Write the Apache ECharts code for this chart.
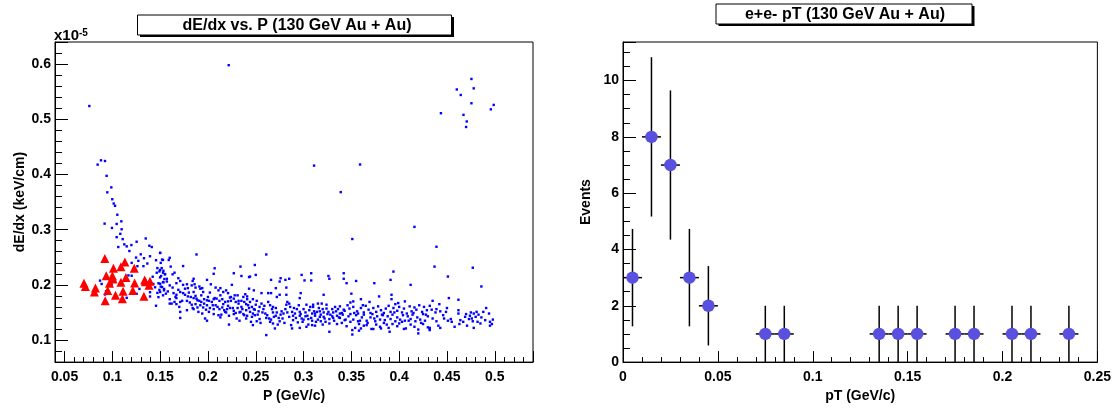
<!DOCTYPE html>
<html><head><meta charset="utf-8">
<script src="https://cdn.jsdelivr.net/npm/echarts@6/dist/echarts.min.js"></script>
<style>html,body{margin:0;padding:0;background:#fff}#c{width:1114px;height:408px}</style>
</head><body><div id="c"></div>
<script>
// ---------- Left panel: dE/dx (x1e-5 keV/cm) vs P (GeV/c) ----------
const trackOutliers = [[0.0759,0.524],[0.2217,0.598],[0.4756,0.573],[0.4603,0.554],[0.4644,0.544],[0.4780,0.556],[0.4756,0.529],[0.4673,0.508],[0.4707,0.496],[0.4700,0.486],[0.4959,0.518],[0.4989,0.526],[0.4437,0.511],[0.311,0.416],[0.3591,0.418],[0.3389,0.368]];
const trackLowP = [[0.0881,0.4256],[0.0923,0.4244],[0.0846,0.4178],[0.0940,0.3975],[0.0989,0.3766],[0.0947,0.3676],[0.0999,0.3551],[0.1014,0.3473],[0.1028,0.3432],[0.1052,0.3270],[0.1094,0.3151],[0.1045,0.3103],[0.0919,0.3109],[0.1097,0.3007],[0.0996,0.3031],[0.1083,0.2924],[0.1045,0.2864],[0.1108,0.2828],[0.1062,0.2685],[0.1125,0.2733],[0.1150,0.2697],[0.1199,0.2721],[0.1254,0.2781],[0.1349,0.2840],[0.1387,0.2709],[0.1412,0.2685],[0.1178,0.2613],[0.1297,0.2553],[0.1248,0.2494],[0.1331,0.2482],[0.1394,0.2518],[0.1499,0.2577],[0.1457,0.2446],[0.1506,0.2398],[0.1520,0.2458],[0.1272,0.2434],[0.1202,0.2398],[0.1325,0.2338],[0.1366,0.2386],[0.1262,0.2338],[0.1471,0.2303],[0.1516,0.2303],[0.1492,0.2243],[0.1534,0.2255],[0.1551,0.2195],[0.1464,0.2219],[0.1422,0.2147],[0.1499,0.2135],[0.1544,0.2105],[0.1168,0.2171],[0.1202,0.2165],[0.1028,0.2076],[0.0993,0.2004],[0.0871,0.2076],[0.0888,0.2016],[0.1482,0.2028],[0.1506,0.1968],[0.1534,0.2046],[0.1492,0.1908],[0.1447,0.1956],[0.1541,0.1926],[0.1394,0.1866],[0.1429,0.2016],[0.1377,0.1968],[0.1283,0.1926],[0.0923,0.1825],[0.0934,0.1884],[0.1150,0.1765],[0.1254,0.1837],[0.1394,0.1789],[0.1482,0.1777],[0.1471,0.1854],[0.1457,0.1621]];
const trackMidP1 = [[0.150,0.258],[0.153,0.245],[0.160,0.249],[0.159,0.245],[0.188,0.255],[0.161,0.233],[0.174,0.234],[0.150,0.227],[0.153,0.222],[0.155,0.219],[0.151,0.216],[0.165,0.222],[0.163,0.219],[0.157,0.211],[0.157,0.206],[0.153,0.205],[0.150,0.202],[0.160,0.199],[0.169,0.212],[0.171,0.207],[0.167,0.203],[0.150,0.187],[0.154,0.190],[0.156,0.184],[0.153,0.181],[0.160,0.174],[0.162,0.166],[0.165,0.169],[0.167,0.176],[0.169,0.191],[0.174,0.185],[0.174,0.200],[0.178,0.201],[0.179,0.194],[0.184,0.207],[0.185,0.211],[0.186,0.201],[0.183,0.199],[0.185,0.187],[0.187,0.195],[0.191,0.197],[0.192,0.193],[0.194,0.194],[0.195,0.187],[0.199,0.209],[0.203,0.201],[0.206,0.220],[0.207,0.230],[0.208,0.195],[0.211,0.190],[0.213,0.194],[0.216,0.187],[0.219,0.190],[0.221,0.185],[0.223,0.177],[0.225,0.200],[0.227,0.221],[0.228,0.181],[0.231,0.181],[0.234,0.233],[0.235,0.216],[0.237,0.178],[0.239,0.183],[0.241,0.179],[0.243,0.193],[0.243,0.214],
[0.164,0.185],[0.167,0.182],[0.171,0.187],[0.176,0.182],[0.179,0.179],[0.182,0.178],[0.185,0.176],[0.188,0.175],[0.191,0.171],[0.193,0.169],[0.196,0.174],[0.199,0.172],[0.201,0.171],[0.204,0.169],[0.206,0.174],[0.209,0.175],[0.212,0.171],[0.215,0.174],[0.218,0.169],[0.221,0.170],[0.224,0.171],[0.227,0.175],[0.229,0.169],[0.232,0.166],[0.235,0.171],[0.238,0.169],[0.241,0.174],
[0.160,0.166],[0.167,0.165],[0.171,0.169],[0.178,0.171],[0.183,0.164],[0.187,0.165],[0.189,0.159],[0.192,0.163],[0.195,0.159],[0.199,0.163],[0.202,0.158],[0.206,0.156],[0.208,0.163],[0.212,0.156],[0.215,0.159],[0.217,0.154],[0.220,0.156],[0.223,0.158],[0.227,0.153],[0.231,0.158],[0.234,0.151],[0.236,0.156],[0.240,0.154],[0.242,0.163],
[0.171,0.151],[0.178,0.154],[0.185,0.156],[0.190,0.151],[0.194,0.148],[0.201,0.151],[0.206,0.147],[0.211,0.145],[0.214,0.146],[0.219,0.150],[0.222,0.144],[0.227,0.147],[0.233,0.150],[0.237,0.147],[0.241,0.144],
[0.171,0.140],[0.197,0.139],[0.199,0.135],[0.213,0.141],[0.222,0.128],[0.230,0.139],[0.233,0.135],[0.240,0.139],
[0.152,0.196],[0.158,0.188],[0.163,0.195],[0.166,0.178],[0.170,0.160],[0.173,0.171],[0.176,0.193],[0.180,0.186],[0.181,0.168],[0.184,0.158],[0.187,0.180],[0.189,0.172],[0.193,0.181],[0.196,0.166],[0.198,0.155],[0.200,0.178],[0.202,0.186],[0.205,0.163],[0.207,0.176],[0.210,0.160],[0.213,0.181],[0.216,0.165],[0.218,0.151],[0.221,0.162],[0.224,0.178],[0.226,0.158],[0.229,0.149],[0.232,0.171],[0.235,0.160],[0.238,0.145],[0.240,0.165],[0.243,0.158]];
const trackMidP2 = [[0.261,0.255],[0.249,0.236],[0.250,0.218],[0.244,0.215],[0.266,0.209],[0.276,0.212],[0.281,0.209],[0.285,0.211],[0.275,0.206],[0.271,0.194],[0.298,0.218],[0.301,0.208],[0.308,0.221],[0.308,0.208],[0.326,0.216],[0.327,0.211],[0.248,0.190],[0.256,0.185],[0.263,0.185],[0.266,0.185],[0.272,0.178],[0.275,0.182],[0.282,0.195],[0.282,0.182],[0.297,0.185],[0.296,0.176],[0.321,0.182],
[0.244,0.169],[0.247,0.174],[0.251,0.171],[0.250,0.164],[0.246,0.160],[0.248,0.156],[0.244,0.151],[0.247,0.148],[0.249,0.145],[0.253,0.152],[0.254,0.160],[0.256,0.166],[0.258,0.156],[0.260,0.148],[0.261,0.140],[0.254,0.138],[0.251,0.134],[0.247,0.127],[0.245,0.133],
[0.263,0.169],[0.265,0.163],[0.267,0.156],[0.268,0.150],[0.269,0.142],[0.264,0.139],[0.265,0.133],[0.268,0.130],[0.270,0.121],[0.271,0.158],[0.272,0.150],[0.274,0.140],[0.275,0.134],
[0.277,0.152],[0.279,0.148],[0.281,0.156],[0.282,0.164],[0.283,0.169],[0.285,0.166],[0.286,0.160],[0.288,0.151],[0.289,0.144],[0.289,0.136],[0.291,0.148],[0.293,0.156],[0.295,0.163],[0.296,0.151],[0.296,0.144],[0.298,0.139],[0.299,0.133],[0.300,0.156],[0.302,0.150],[0.303,0.164],[0.304,0.144],[0.305,0.138],[0.306,0.154],[0.308,0.140],[0.309,0.148],[0.310,0.160],[0.310,0.164],[0.311,0.152],[0.312,0.144],[0.313,0.133],[0.314,0.151],[0.315,0.166],[0.316,0.158],[0.317,0.152],[0.317,0.142],[0.318,0.134],[0.319,0.166],[0.320,0.156],[0.321,0.150],[0.321,0.142],[0.323,0.133],[0.324,0.157],[0.324,0.164],[0.326,0.151],[0.327,0.138],[0.328,0.146],[0.330,0.156],[0.331,0.140],[0.331,0.150],[0.333,0.160],[0.334,0.152],[0.335,0.144],[0.336,0.156],[0.338,0.148],
[0.288,0.121],[0.296,0.122],[0.303,0.124],[0.309,0.127],[0.312,0.126],[0.327,0.115],[0.261,0.109],
[0.246,0.142],[0.249,0.155],[0.252,0.146],[0.255,0.131],[0.257,0.150],[0.259,0.162],[0.262,0.145],[0.266,0.137],[0.268,0.160],[0.271,0.144],[0.273,0.128],[0.276,0.146],[0.278,0.139],[0.280,0.131],[0.283,0.150],[0.285,0.142],[0.287,0.127],[0.290,0.158],[0.292,0.140],[0.294,0.132],[0.297,0.147],[0.300,0.137],[0.302,0.143],[0.305,0.128],[0.307,0.160],[0.309,0.135],[0.312,0.148],[0.315,0.137],[0.318,0.146],[0.320,0.128],[0.322,0.139],[0.325,0.147],[0.327,0.130],[0.330,0.143],[0.332,0.135],[0.335,0.129],[0.337,0.141]];
const trackHighP1 = [[0.416,0.305],[0.351,0.283],[0.342,0.221],[0.342,0.211],[0.345,0.203],[0.355,0.207],[0.374,0.203],[0.394,0.224],[0.391,0.209],[0.412,0.200],[0.350,0.184],[0.379,0.179],[0.392,0.182],[0.369,0.169],[0.392,0.174],[0.406,0.170],[0.360,0.174],[0.352,0.170],[0.349,0.168],
[0.338,0.161],[0.342,0.155],[0.346,0.163],[0.340,0.149],[0.343,0.153],[0.348,0.157],[0.352,0.160],[0.356,0.152],[0.357,0.148],[0.360,0.158],[0.363,0.150],[0.365,0.162],[0.368,0.155],[0.370,0.149],[0.373,0.158],[0.376,0.151],[0.378,0.161],[0.381,0.154],[0.384,0.149],[0.386,0.157],[0.389,0.162],[0.391,0.151],[0.394,0.158],[0.396,0.165],[0.398,0.153],[0.400,0.160],[0.403,0.150],[0.405,0.157],[0.408,0.148],[0.411,0.161],[0.413,0.152],[0.416,0.159],[0.418,0.155],[0.421,0.163],[0.424,0.151],[0.426,0.160],[0.429,0.154],[0.432,0.162],
[0.338,0.140],[0.341,0.146],[0.343,0.136],[0.347,0.143],[0.349,0.147],[0.352,0.137],[0.355,0.145],[0.357,0.134],[0.361,0.141],[0.363,0.146],[0.366,0.135],[0.370,0.141],[0.372,0.147],[0.375,0.134],[0.377,0.143],[0.380,0.137],[0.383,0.145],[0.385,0.136],[0.388,0.143],[0.391,0.138],[0.393,0.146],[0.396,0.134],[0.398,0.141],[0.401,0.137],[0.404,0.145],[0.406,0.135],[0.409,0.143],[0.412,0.138],[0.414,0.146],[0.417,0.134],[0.419,0.141],[0.422,0.137],[0.425,0.147],[0.427,0.135],[0.430,0.143],
[0.340,0.131],[0.345,0.125],[0.349,0.133],[0.354,0.122],[0.358,0.129],[0.363,0.126],[0.367,0.131],[0.371,0.120],[0.376,0.128],[0.380,0.124],[0.384,0.131],[0.389,0.122],[0.393,0.129],[0.398,0.125],[0.403,0.133],[0.407,0.121],[0.412,0.128],[0.416,0.124],[0.420,0.119],[0.425,0.129],[0.430,0.123],
[0.351,0.118],[0.351,0.110],[0.360,0.121],[0.373,0.120],[0.390,0.115],[0.405,0.120],[0.420,0.112],[0.432,0.120],
[0.344,0.137],[0.353,0.149],[0.359,0.135],[0.366,0.127],[0.374,0.139],[0.382,0.146],[0.387,0.128],[0.395,0.150],[0.400,0.130],[0.410,0.135],[0.415,0.149],[0.423,0.131],[0.428,0.146],[0.362,0.163],[0.399,0.167],[0.381,0.121],[0.358,0.117]];
const trackHighP2 = [[0.439,0.269],[0.437,0.233],[0.477,0.231],[0.451,0.215],[0.486,0.197],[0.452,0.176],[0.462,0.173],[0.435,0.171],[0.442,0.165],
[0.491,0.158],[0.494,0.148],[0.488,0.151],[0.481,0.151],[0.478,0.148],[0.474,0.144],[0.480,0.142],[0.473,0.138],[0.477,0.134],[0.482,0.133],[0.485,0.130],[0.490,0.136],[0.495,0.133],[0.495,0.126],[0.478,0.122],[0.471,0.126],[0.467,0.133],[0.464,0.136],[0.462,0.154],[0.462,0.148],[0.454,0.138],[0.455,0.133],[0.450,0.158],[0.449,0.151],[0.446,0.145],[0.447,0.139],[0.451,0.135],[0.443,0.152],[0.439,0.156],[0.438,0.150],[0.434,0.155],[0.435,0.139],[0.439,0.134],[0.441,0.126],[0.443,0.122],[0.458,0.124],[0.432,0.122],[0.432,0.118],
[0.470,0.147],[0.475,0.150],[0.483,0.146],[0.486,0.141],[0.476,0.139],[0.469,0.142],[0.497,0.129],[0.498,0.137],[0.463,0.129]];
const electronCandidates = [[0.0703,0.2027],[0.0718,0.1968],[0.0812,0.1872],[0.0823,0.1944],[0.0921,0.2475],[0.0936,0.2165],[0.0925,0.1711],[0.0951,0.1896],[0.0970,0.2027],[0.1000,0.2165],[0.1011,0.2302],[0.1007,0.2105],[0.1033,0.1812],[0.1090,0.2326],[0.1090,0.2045],[0.1105,0.1747],[0.1112,0.1884],[0.1131,0.2416],[0.1142,0.2135],[0.1214,0.1896],[0.1229,0.2302],[0.1233,0.2033],[0.1330,0.1794],[0.1338,0.2087],[0.1345,0.2057],[0.1383,0.1992],[0.1394,0.2063]];

// ---------- Right panel: e+e- pT histogram ----------
const ptBinCenters = [0.005,0.015,0.025,0.035,0.045,0.075,0.085,0.135,0.145,0.155,0.175,0.185,0.205,0.215,0.235];
const ptEvents     = [3,8,7,3,2,1,1,1,1,1,1,1,1,1,1];
const ptErrY       = [1.73,2.83,2.65,1.73,1.41,1,1,1,1,1,1,1,1,1,1];
const ptHalfBin    = 0.005;

const FONT = '"Liberation Sans", Arial, Helvetica, sans-serif';
const allTracks = [].concat(trackOutliers, trackLowP, trackMidP1, trackMidP2, trackHighP1, trackHighP2);

function axisBase(extra) {
  return Object.assign({
    type: 'value',
    axisLine: { show: true, onZero: false, lineStyle: { color: '#000', width: 1 } },
    splitLine: { show: false },
    nameLocation: 'middle',
    nameTextStyle: { color: '#000', fontFamily: FONT, fontWeight: 'bold', fontSize: 14 }
  }, extra);
}
const lbl = (extra) => Object.assign({ color: '#000', fontFamily: FONT, fontWeight: 'bold', fontSize: 14 }, extra);

const chart = echarts.init(document.getElementById('c'));
chart.setOption({
  animation: false,
  backgroundColor: '#fff',
  grid: [
    { left: 55, top: 42, width: 478, height: 324, show: true, borderColor: '#000', borderWidth: 1, backgroundColor: 'transparent' },
    { left: 623, top: 42, width: 478, height: 324, show: true, borderColor: '#000', borderWidth: 1, backgroundColor: 'transparent' }
  ],
  xAxis: [
    axisBase({ gridIndex: 0, min: 0.04, max: 0.54, splitNumber: 10, name: 'P (GeV/c)', nameGap: 25,
      axisTick: { show: true, inside: true, length: 11, lineStyle: { color: '#000' } },
      minorTick: { show: true, splitNumber: 5, length: 5, lineStyle: { color: '#000' } },
      axisLabel: lbl({ margin: 8, showMinLabel: false, showMaxLabel: false }) }),
    axisBase({ gridIndex: 1, min: 0, max: 0.25, interval: 0.05, name: 'pT (GeV/c)', nameGap: 25,
      axisTick: { show: true, inside: true, length: 11, lineStyle: { color: '#000' } },
      minorTick: { show: true, splitNumber: 5, length: 5, lineStyle: { color: '#000' } },
      axisLabel: lbl({ margin: 8 }) })
  ],
  yAxis: [
    axisBase({ gridIndex: 0, min: 0.06, max: 0.64, splitNumber: 6, name: 'dE/dx (keV/cm)', nameGap: 28,
      axisTick: { show: true, inside: true, length: 13, lineStyle: { color: '#000' } },
      minorTick: { show: true, splitNumber: 5, length: 7, lineStyle: { color: '#000' } },
      axisLabel: lbl({ margin: 4, showMinLabel: false, showMaxLabel: false }) }),
    axisBase({ gridIndex: 1, min: 0, max: 11.37, interval: 2, name: 'Events', nameGap: 30,
      axisTick: { show: true, inside: true, length: 13, lineStyle: { color: '#000' } },
      minorTick: { show: true, splitNumber: 4, length: 7, lineStyle: { color: '#000' } },
      axisLabel: lbl({ margin: 4, showMaxLabel: false }) })
  ],
  graphic: [
    { type: 'rect', shape: { x: 140, y: 17, width: 314, height: 20 }, style: { fill: '#000' }, z: 10 },
    { type: 'rect', shape: { x: 137.5, y: 15, width: 314, height: 20 }, style: { fill: '#fff', stroke: '#000', lineWidth: 1 }, z: 11 },
    { type: 'text', x: 297, y: 26, style: { text: 'dE/dx vs. P (130 GeV Au + Au)', font: 'bold 16px ' + FONT, fill: '#000', textAlign: 'center', textVerticalAlign: 'middle' }, z: 12 },
    { type: 'rect', shape: { x: 718.5, y: 6, width: 256, height: 20 }, style: { fill: '#000' }, z: 10 },
    { type: 'rect', shape: { x: 716, y: 4, width: 256, height: 20 }, style: { fill: '#fff', stroke: '#000', lineWidth: 1 }, z: 11 },
    { type: 'text', x: 845, y: 15, style: { text: 'e+e- pT (130 GeV Au + Au)', font: 'bold 16px ' + FONT, fill: '#000', textAlign: 'center', textVerticalAlign: 'middle' }, z: 12 },
    { type: 'text', x: 54, y: 28, z: 12, style: { text: '{a|x10}{b|-5}', fill: '#000',
        rich: { a: { font: 'bold 15px ' + FONT, fill: '#000', verticalAlign: 'bottom', lineHeight: 15 },
                b: { font: 'bold 10px ' + FONT, fill: '#000', verticalAlign: 'top', lineHeight: 15 } } } }
  ],
  series: [
    { type: 'scatter', xAxisIndex: 0, yAxisIndex: 0, data: allTracks, symbol: 'rect', symbolSize: 2.4,
      itemStyle: { color: '#0000ff', opacity: 1 }, silent: true, z: 2 },
    { type: 'scatter', xAxisIndex: 0, yAxisIndex: 0, data: electronCandidates, symbol: 'triangle', symbolSize: 9,
      itemStyle: { color: '#ff0000', opacity: 1 }, silent: true, z: 3 },
    { type: 'custom', xAxisIndex: 1, yAxisIndex: 1, z: 2, silent: true,
      data: ptBinCenters.map((x, i) => [x, ptEvents[i], ptErrY[i], ptHalfBin]),
      renderItem: function (params, api) {
        const x = api.value(0), y = api.value(1), ey = api.value(2), ex = api.value(3);
        const top = api.coord([x, y + ey]);
        const bot = api.coord([x, Math.max(0, y - ey)]);
        const l = api.coord([x - ex, y]);
        const r = api.coord([x + ex, y]);
        return { type: 'group', children: [
          { type: 'line', shape: { x1: top[0], y1: top[1], x2: bot[0], y2: bot[1] }, style: { stroke: '#000', lineWidth: 1.5 } },
          { type: 'line', shape: { x1: l[0], y1: l[1], x2: r[0], y2: r[1] }, style: { stroke: '#000', lineWidth: 1.5 } }
        ] };
      } },
    { type: 'scatter', xAxisIndex: 1, yAxisIndex: 1, z: 3, silent: true,
      data: ptBinCenters.map((x, i) => [x, ptEvents[i]]), symbol: 'circle', symbolSize: 12.5,
      itemStyle: { color: '#5a50e0', opacity: 1 } }
  ]
});
</script>
</body></html>
